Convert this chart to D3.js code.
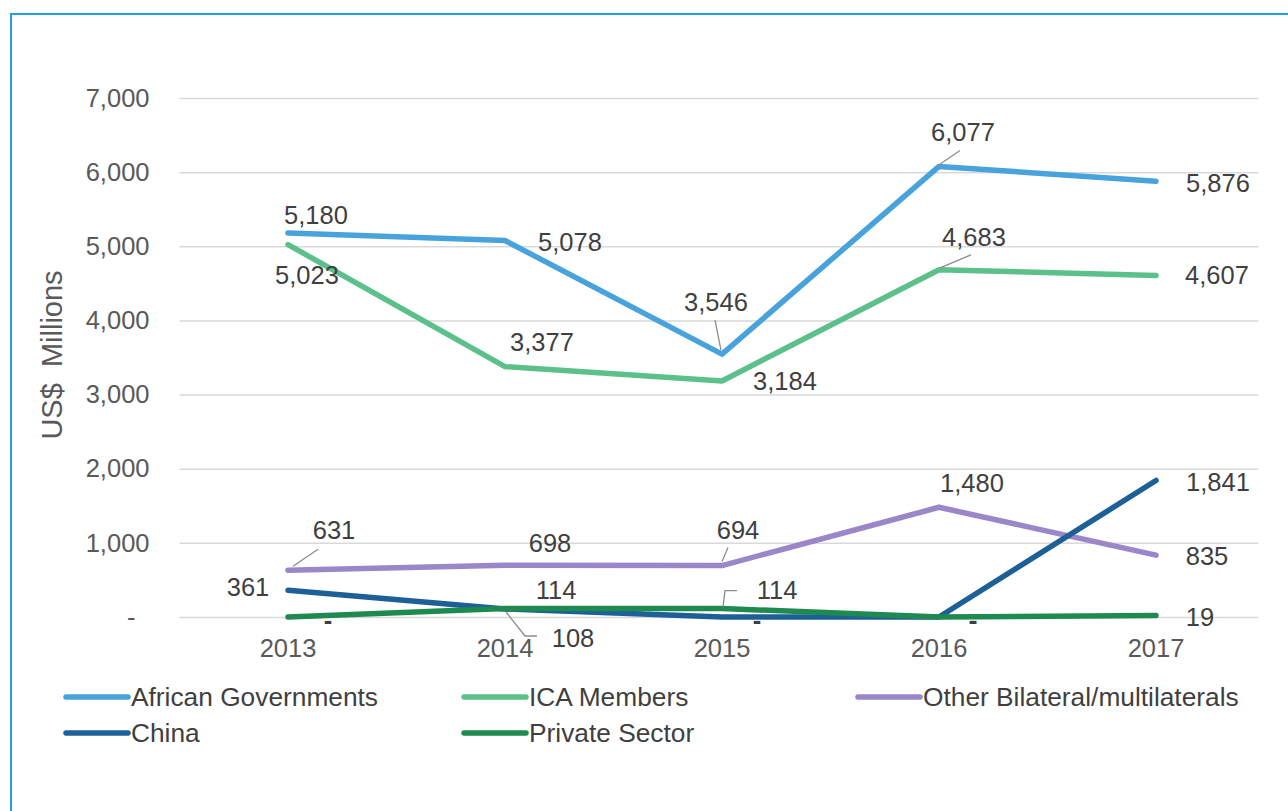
<!DOCTYPE html>
<html>
<head>
<meta charset="utf-8">
<script src="https://cdn.jsdelivr.net/npm/d3@7"></script>
<style>
  html, body { margin: 0; padding: 0; background: #ffffff; }
  svg { display: block; font-family: "Liberation Sans", Arial, sans-serif; }
</style>
</head>
<body>
<svg id="chart" width="1288" height="811"></svg>
<script>
// Funding commitments by source, US$ millions
const years = ["2013", "2014", "2015", "2016", "2017"];
const africanGovernments = [5180, 5078, 3546, 6077, 5876];
const icaMembers = [5023, 3377, 3184, 4683, 4607];
const otherBilateral = [631, 698, 694, 1480, 835];
const china = [361, 108, 0, 0, 1841];
const privateSector = [0, 114, 114, 0, 19];
const yTicks = [0, 1000, 2000, 3000, 4000, 5000, 6000, 7000];

const seriesNames = ["African Governments", "ICA Members", "Other Bilateral/multilaterals", "China", "Private Sector"];
const seriesValues = [africanGovernments, icaMembers, otherBilateral, china, privateSector];
const seriesColors = ["#48a3dc", "#5cc08b", "#9a87c9", "#1d5f97", "#1e8a4f"];

// Label placement per series/year: [dx, dy] of the label centre from the point,
// plus an optional leader polyline (relative to the point).
const labelLayout = [
  [[28, -18], [65, 1.5], [-6, -52, [[-1, -4], [-7, -34]]], [24, -34, [[-1, -1], [21, -16]]], [62, 2]],
  [[19, 30], [37, -25], [63, 0], [35, -33, [[1, -2], [32, -15]]], [61, 0]],
  [[46, -40, [[5, -4], [30, -21]]], [45, -22], [16, -36, [[0, -4], [6, -18]]], [33, -24], [51, 1]],
  [[-40, -3], [68, 29, [[1, 3], [20, 27], [32, 27]]], [35, 3], [34, 3], [62, 1.5]],
  [[40, 3], [51, -18.5], [55, -18.5, [[1, -2], [3, -18], [15, -18]]], [34, 3], [44, 1]]
];

const svg = d3.select("#chart");
const W = 1288, H = 811;

// frame
svg.append("line").attr("x1", 11).attr("y1", 14).attr("x2", W).attr("y2", 14)
  .attr("stroke", "#22a0e0").attr("stroke-width", 2);
svg.append("line").attr("x1", 11).attr("y1", 13).attr("x2", 11).attr("y2", H)
  .attr("stroke", "#22a0e0").attr("stroke-width", 2);

const plot = { left: 179.5, right: 1264.5, top: 98, bottom: 617 };

const x = d3.scaleBand().domain(years).range([plot.left, plot.right]);
const y = d3.scaleLinear().domain([0, 7000]).range([plot.bottom, plot.top]);
const px = (i) => x(years[i]) + x.bandwidth() / 2;

const fmt = d3.format(",");

// y axis with gridlines
const yAxis = svg.append("g")
  .attr("transform", `translate(${plot.left},0)`)
  .call(d3.axisLeft(y).tickValues(yTicks)
    .tickSize(-(plot.right - plot.left - 6))
    .tickPadding(30)
    .tickFormat(d => d === 0 ? "-" : fmt(d)));
yAxis.select(".domain").remove();
yAxis.selectAll(".tick line").attr("stroke", "#d9d9d9").attr("stroke-width", 1.5);
yAxis.selectAll(".tick text")
  .attr("fill", "#595959")
  .attr("font-size", 25.5)
  .attr("dx", d => d === 0 ? -14 : 0)
  .style("font-family", "'Liberation Sans', Arial, sans-serif");

// x axis labels
const xAxis = svg.append("g")
  .attr("transform", `translate(0,${plot.bottom})`)
  .call(d3.axisBottom(x).tickSize(0).tickPadding(22));
xAxis.select(".domain").remove();
xAxis.selectAll(".tick text")
  .attr("fill", "#595959")
  .attr("font-size", 25.5)
  .style("font-family", "'Liberation Sans', Arial, sans-serif");

// y axis title
svg.append("text")
  .attr("transform", `translate(52,355) rotate(-90)`)
  .attr("text-anchor", "middle")
  .attr("dominant-baseline", "central")
  .attr("fill", "#595959")
  .attr("font-size", 29)
  .attr("xml:space", "preserve")
  .style("white-space", "pre")
  .text("US$  Millions");

// series lines
const line = d3.line()
  .x((d, i) => px(i))
  .y(d => y(d));

seriesValues.forEach((vals, s) => {
  svg.append("path")
    .datum(vals)
    .attr("d", line)
    .attr("fill", "none")
    .attr("stroke", seriesColors[s])
    .attr("stroke-width", 5.5)
    .attr("stroke-linejoin", "round")
    .attr("stroke-linecap", "round");
});

// data labels and leader lines
seriesValues.forEach((vals, s) => {
  vals.forEach((v, i) => {
    const lay = labelLayout[s][i];
    const cx = px(i), cy = y(v);
    if (lay[2]) {
      svg.append("polyline")
        .attr("points", lay[2].map(p => `${cx + p[0]},${cy + p[1]}`).join(" "))
        .attr("fill", "none")
        .attr("stroke", "#8c8c8c")
        .attr("stroke-width", 1.3);
    }
    svg.append("text")
      .attr("x", cx + lay[0])
      .attr("y", cy + lay[1])
      .attr("text-anchor", "middle")
      .attr("dominant-baseline", "central")
      .attr("fill", "#3f3f3f")
      .attr("font-size", 25.5)
      .attr("font-weight", v === 0 ? "bold" : "normal")
      .text(v === 0 ? "-" : fmt(v));
  });
});

// legend
const legendPos = [[66, 697], [464, 697], [858, 697], [66, 733], [464, 733]];
seriesNames.forEach((name, s) => {
  const [lx, ly] = legendPos[s];
  svg.append("line")
    .attr("x1", lx).attr("x2", lx + 62)
    .attr("y1", ly).attr("y2", ly)
    .attr("stroke", seriesColors[s])
    .attr("stroke-width", 5.5)
    .attr("stroke-linecap", "round");
  svg.append("text")
    .attr("x", lx + 65)
    .attr("y", ly)
    .attr("dominant-baseline", "central")
    .attr("fill", "#3f3f3f")
    .attr("font-size", 26.3)
    .text(name);
});
</script>
</body>
</html>
